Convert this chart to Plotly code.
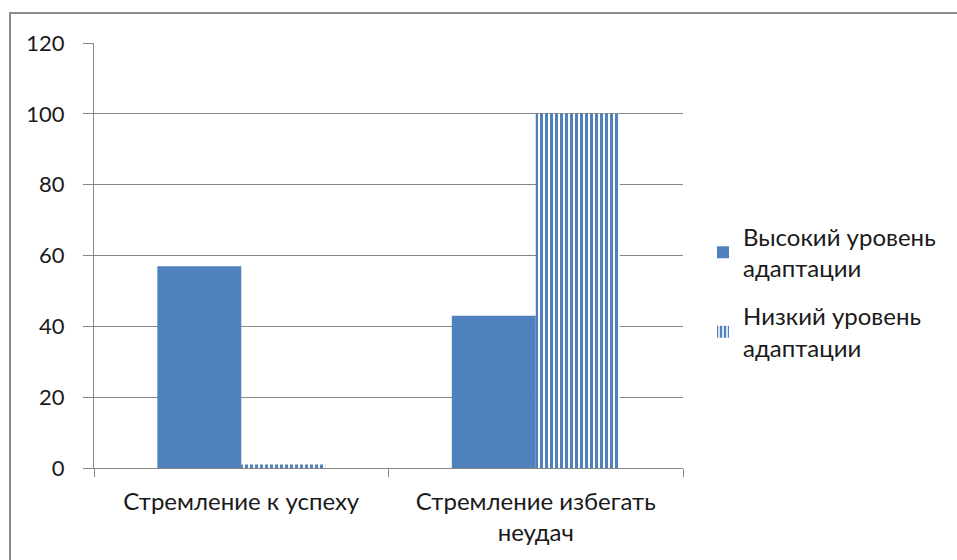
import plotly.graph_objects as go

categories = ["Стремление к успеху", "Стремление избегать<br>неудач"]
series_names = ["Высокий уровень<br>адаптации", "Низкий уровень<br>адаптации"]
high_values = [57, 43]
low_values = [1, 100]
y_ticks = [0, 20, 40, 60, 80, 100, 120]

BLUE = "#4F81BD"
GRID = "#868686"
FONT = "Lato, 'Open Sans', sans-serif"

fig = go.Figure()
fig.add_trace(go.Bar(
    x=categories, y=high_values, name=series_names[0], legendgroup="a",
    marker=dict(color=BLUE, line=dict(width=0)),
))
fig.add_trace(go.Bar(
    x=categories, y=low_values, name=series_names[1], legendgroup="b",
    marker=dict(color="white", line=dict(width=0),
                pattern=dict(shape="|", fgcolor=BLUE, bgcolor="white",
                             size=5, solidity=0.6, fillmode="replace")),
))

L, R, T, B = 94, 274, 43, 92
W, H = 957, 560
pw, ph = W - L - R, H - T - B

fig.update_layout(
    width=W, height=H,
    margin=dict(l=L, r=R, t=T, b=B, autoexpand=False),
    paper_bgcolor="white", plot_bgcolor="white",
    barmode="group", bargap=0.43, bargroupgap=0,
    font=dict(family=FONT, size=22, color="#1A1A1A"),
    showlegend=True,
    legend=dict(x=(703 - L) / pw, xanchor="left", y=0.414, yanchor="middle",
                font=dict(size=24), tracegroupgap=14, bgcolor="rgba(0,0,0,0)",
                itemwidth=30),
    xaxis=dict(type="category", tickson="boundaries", ticks="outside", ticklen=8,
               tickcolor=GRID, showline=True, linecolor=GRID, linewidth=1,
               showgrid=False, tickfont=dict(size=24), ticklabelstandoff=12),
    yaxis=dict(range=[0, 120], tickvals=y_ticks, ticks="outside", ticklen=10,
               tickcolor=GRID, showline=True, linecolor=GRID, linewidth=1,
               showgrid=True, gridcolor=GRID, gridwidth=1, zeroline=False,
               tickfont=dict(size=22), ticklabelstandoff=14),
    shapes=[dict(type="rect", xref="paper", yref="paper",
                 x0=(10 - L) / pw, x1=(W + 5 - L) / pw,
                 y0=-(H + 5 - T - ph) / ph, y1=1 + (T - 13) / ph,
                 line=dict(color="#8C8C8C", width=2), fillcolor="rgba(0,0,0,0)",
                 layer="below")],
)

fig.write_html("out.html", config={"displayModeBar": False},
               post_script="document.body.style.margin='0';document.body.style.overflow='hidden';")
